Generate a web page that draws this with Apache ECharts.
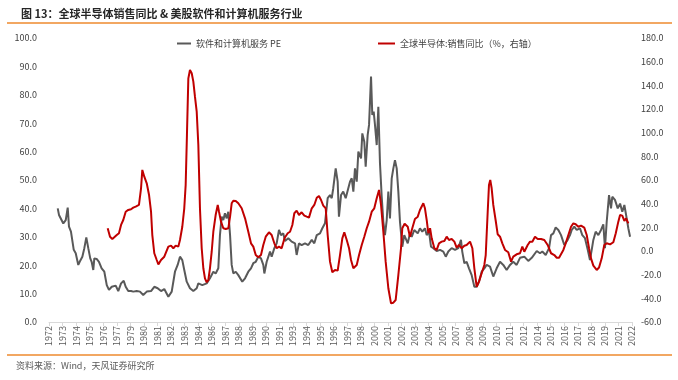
<!DOCTYPE html>
<html>
<head>
<meta charset="utf-8">
<script src="https://cdn.jsdelivr.net/npm/echarts@6/dist/echarts.min.js"></script>
<style>
html,body{margin:0;padding:0;background:#fff;}
#chart{width:678px;height:380px;}
</style>
</head>
<body>
<div id="chart"></div>
<script>
// Time of each reading, in decimal years
var peYears = [
1972.75,1972.86,
1973.03,1973.23,1973.44,1973.61,1973.72,1973.89,
1974.00,1974.13,1974.30,1974.52,1974.64,1974.75,1974.87,
1975.04,1975.21,1975.38,1975.55,1975.67,1975.81,1975.90,
1976.10,1976.30,1976.53,1976.76,1976.97,
1977.16,1977.40,1977.53,1977.74,1977.96,
1978.20,1978.43,1978.60,1978.82,
1979.06,1979.25,1979.55,1979.83,
1980.11,1980.41,1980.78,
1981.06,1981.35,1981.64,1981.92,
1982.27,1982.56,1982.84,
1983.07,1983.27,1983.47,1983.64,1983.85,
1984.13,1984.42,1984.71,1984.85,
1985.19,1985.57,1985.85,
1986.14,1986.34,1986.57,1986.71,1986.86,
1987.00,1987.14,1987.29,1987.43,1987.58,1987.72,1987.86,
1988.07,1988.29,1988.63,1988.87,
1989.15,1989.38,1989.58,1989.79,
1990.01,1990.24,1990.44,1990.53,1990.73,
1991.02,1991.16,1991.39,1991.59,1991.79,1991.96,
1992.16,1992.31,1992.59,1992.88,
1993.17,1993.31,1993.51,1993.74,
1994.03,1994.31,1994.61,1994.83,
1995.04,1995.32,1995.52,1995.75,1995.98,
1996.18,1996.33,1996.46,1996.67,1996.84,1996.95,
1997.13,1997.32,1997.53,1997.70,1997.90,
1998.05,1998.19,1998.33,1998.48,1998.62,1998.85,1998.96,
1999.13,1999.25,1999.42,1999.54,1999.71,1999.82,1999.94,
2000.05,2000.20,2000.34,2000.48,2000.63,2000.77,2000.91,
2001.06,2001.20,2001.34,2001.49,2001.63,2001.77,2001.92,
2002.06,2002.20,2002.40,2002.57,2002.87,
2003.06,2003.21,2003.43,2003.73,2003.92,
2004.12,2004.35,2004.50,2004.70,2004.87,
2005.07,2005.36,2005.65,2005.93,
2006.14,2006.36,2006.65,2006.94,
2007.22,2007.45,2007.56,2007.74,2007.94,
2008.14,2008.37,2008.60,2008.80,
2009.00,2009.23,2009.46,2009.66,2009.95,
2010.23,2010.52,2010.81,
2011.09,2011.38,2011.67,2011.95,
2012.24,2012.53,2012.90,
2013.24,2013.54,2013.97,
2014.25,2014.45,2014.74,
2015.03,2015.20,2015.40,2015.60,2015.83,
2016.06,2016.34,2016.63,2016.83,2016.98,
2017.20,2017.41,2017.69,2017.89,
2018.12,2018.36,2018.55,2018.70,2018.84,
2019.04,2019.27,2019.50,2019.70,2019.84,2019.99,
2020.19,2020.36,2020.47,2020.70,2020.94,
2021.14,2021.33,2021.51,2021.71,2021.85,
2022.00
];
var peValues = [
40.0,37.7,
37.5,34.7,35.9,40.3,33.6,31.8,
31.2,25.4,24.2,20.1,21.2,20.7,23.0,
26.0,29.8,26.0,22.4,21.2,18.3,22.4,
22.2,21.2,18.9,17.7,13.0,
11.3,12.4,11.9,12.8,10.9,
13.6,14.5,12.4,10.9,
10.9,10.7,10.9,10.7,
9.5,10.7,10.9,
12.4,11.9,10.9,11.6,
8.9,10.7,17.7,
20.1,23.0,21.8,18.3,14.2,
11.9,10.9,11.9,13.6,
13.0,13.6,15.4,
17.7,17.1,18.9,30.6,37.1,
35.9,38.3,36.5,38.8,30.6,20.1,17.1,
17.7,16.5,14.2,15.4,
17.7,18.9,20.7,21.2,
23.0,22.4,20.1,17.1,21.2,
24.8,23.0,26.0,27.7,32.4,30.6,
31.2,28.5,29.5,28.3,
27.7,23.6,27.7,27.1,
27.7,27.1,28.9,27.7,
30.6,31.2,33.0,34.8,43.6,
44.7,43.6,47.1,54.1,49.4,37.1,
44.7,45.9,43.6,44.1,49.4,
50.6,45.9,54.1,49.4,60.0,57.6,66.4,
63.5,54.7,65.8,69.4,86.4,72.9,74.1,
69.4,62.3,75.8,55.9,44.1,35.3,30.6,
35.9,45.9,36.5,50.6,54.1,57.0,54.1,
45.9,35.3,26.5,30.6,27.7,
31.2,30.0,32.4,31.2,33.0,
31.8,33.0,30.6,31.8,26.5,
26.0,25.0,25.4,24.8,
23.0,24.8,26.0,25.4,
26.0,28.9,24.8,20.7,21.2,
18.9,16.5,12.4,12.4,
14.2,17.7,18.9,20.1,19.5,
16.0,18.9,21.2,
20.1,18.3,20.1,21.2,
20.1,22.6,23.0,
21.5,22.6,25.0,
24.2,24.8,23.6,
26.0,30.6,31.2,33.3,32.4,
30.6,27.1,28.9,30.6,32.4,
33.6,32.4,33.0,30.6,
29.5,25.4,21.8,25.4,28.9,
31.8,30.6,32.4,34.4,26.0,35.3,
44.7,40.0,44.1,43.0,40.0,
41.7,38.8,41.2,36.5,33.0,
30.0
];
var semiYears = [
1977.05,1977.25,1977.45,1977.62,1977.83,
1978.02,1978.20,1978.39,1978.60,1978.82,
1979.06,1979.25,1979.46,1979.74,1979.92,
1980.03,1980.20,1980.41,1980.61,1980.78,1980.89,
1981.06,1981.27,1981.41,1981.64,1981.92,
1982.27,1982.50,1982.70,1982.90,
1983.13,1983.27,1983.47,1983.64,1983.76,1983.87,1983.99,
1984.13,1984.28,1984.42,1984.56,1984.71,1984.85,1984.99,
1985.14,1985.28,1985.42,1985.57,1985.71,1985.85,
1986.00,1986.14,1986.34,1986.52,1986.63,1986.80,
1987.00,1987.21,1987.43,1987.58,1987.72,1987.86,
1988.07,1988.29,1988.58,1988.87,
1989.15,1989.38,1989.58,1989.79,
1990.01,1990.24,1990.44,1990.65,1990.93,
1991.16,1991.39,1991.59,1991.79,
1992.02,1992.27,1992.54,1992.74,1992.94,
1993.11,1993.31,1993.51,1993.74,1993.97,
1994.18,1994.37,1994.61,1994.83,
1995.04,1995.23,1995.41,1995.60,1995.81,1995.98,
1996.18,1996.38,1996.61,1996.84,
1997.04,1997.24,1997.41,1997.62,1997.82,1997.99,
1998.19,1998.33,1998.48,1998.68,1998.91,
1999.13,1999.34,1999.54,1999.77,1999.99,
2000.20,2000.40,2000.57,2000.77,2000.97,
2001.20,2001.43,2001.63,2001.83,
2002.06,2002.29,2002.40,2002.60,2002.87,
2003.06,2003.26,2003.49,2003.73,2003.92,
2004.21,2004.35,2004.50,2004.64,2004.79,2004.93,
2005.16,2005.36,2005.56,2005.79,
2006.02,2006.22,2006.42,2006.65,2006.88,
2007.08,2007.28,2007.51,2007.74,2007.94,
2008.23,2008.43,2008.60,2008.80,
2009.00,2009.23,2009.46,2009.58,2009.75,2009.86,2009.97,
2010.09,2010.23,2010.43,2010.61,2010.81,
2011.01,2011.24,2011.52,2011.76,2011.95,
2012.24,2012.53,2012.73,2012.90,
2013.19,2013.39,2013.59,2013.82,
2014.05,2014.34,2014.62,2014.91,
2015.20,2015.48,2015.69,2015.89,
2016.06,2016.26,2016.46,2016.69,2016.92,
2017.12,2017.32,2017.55,2017.78,
2018.06,2018.27,2018.47,2018.64,2018.84,
2019.13,2019.33,2019.56,2019.78,2019.99,
2020.28,2020.56,2020.77,2020.99,
2021.14,2021.33,2021.51,2021.66,2021.85
];
var semiValues = [
19.2,12.1,10.2,9.0,13.5,
15.0,22.0,26.2,33.2,34.7,
35.3,36.6,37.5,38.9,53.0,
68.5,62.8,57.2,47.3,33.2,13.5,
-1.9,-7.6,-11.3,-7.6,-4.8,
3.7,4.5,2.3,4.5,
3.7,9.3,20.5,36.1,55.8,98.0,145.9,
153.0,150.2,143.1,130.4,117.7,89.6,36.1,
2.3,-14.6,-23.1,-26.4,-24.5,-14.6,
-0.6,16.3,30.4,38.9,33.2,24.8,
19.2,18.6,19.2,29.0,40.3,42.5,
42.3,40.3,36.1,27.6,
16.3,6.5,3.7,-3.4,
-5.3,-3.4,5.1,12.1,15.8,
13.5,6.5,2.3,3.7,
2.3,11.0,15.0,16.3,22.0,
31.9,34.1,30.4,32.7,29.9,
29.0,28.2,36.1,38.9,
45.0,46.5,43.1,38.3,36.1,13.5,
-9.0,-18.0,-16.0,-16.6,
-3.4,10.7,15.8,9.3,2.3,-7.6,
-14.6,-16.0,-11.8,-3.4,5.1,
12.1,19.2,24.8,33.2,36.1,
44.5,51.6,38.9,16.3,-9.0,
-31.5,-44.2,-43.7,-41.4,
-20.3,2.3,19.2,23.0,20.5,
12.1,19.2,27.1,29.0,34.7,
40.3,36.1,26.2,15.0,19.2,10.7,
2.3,0.9,6.5,7.9,
8.5,12.1,9.3,10.2,7.9,
2.8,5.1,2.3,4.5,5.1,
7.9,2.3,-14.6,-30.2,
-25.9,-18.8,-11.8,-3.4,33.2,55.8,60.0,
53.0,38.9,26.2,14.1,12.1,
6.5,0.9,-1.1,-9.0,-4.8,
-2.8,-1.9,3.7,-0.6,
5.1,7.9,7.9,12.1,
10.2,10.2,9.3,5.1,
-1.9,-3.4,-5.7,-5.7,
-7.0,0.9,6.5,13.5,20.5,
23.4,22.6,20.5,21.4,
19.7,13.5,2.3,-6.2,-12.4,
-16.0,-14.0,-6.2,5.1,6.5,
5.6,7.4,15.0,24.8,
30.4,29.9,25.4,27.6,23.4
];
var startYear = 1972;
var axisMonths = 602;     // span of the time axis in months from Jan 1972
var labelStepMonths = 14; // one tick label every 14 months
var peName = '软件和计算机服务 PE';
var semiName = '全球半导体:销售同比（%，右轴）';
var titleText = '图 13：全球半导体销售同比 & 美股软件和计算机服务行业';
var sourceText = '资料来源：Wind，天风证券研究所';

function toPairs(years, values) {
  var out = [];
  var n = Math.min(years.length, values.length);
  for (var i = 0; i < n; i++) out.push([(years[i] - startYear) * 12, values[i]]);
  return out;
}

var FONT = '"Noto Sans CJK SC", "Noto Sans", sans-serif';
var chart = echarts.init(document.getElementById('chart'));
chart.setOption({
  animation: false,
  backgroundColor: '#fff',
  textStyle: { fontFamily: FONT },
  title: {
    text: titleText, left: 16, top: 3,
    textStyle: { fontSize: 11, fontWeight: 'bold', color: '#262626', fontFamily: FONT }
  },
  graphic: [
    { type: 'line', shape: { x1: 7, y1: 23, x2: 672, y2: 23 }, style: { stroke: '#EE8A2E', lineWidth: 1.5 } },
    { type: 'line', shape: { x1: 7, y1: 355, x2: 672, y2: 355 }, style: { stroke: '#EE8A2E', lineWidth: 1.5 } },
    { type: 'text', left: 16, top: 361, style: { text: sourceText, fontSize: 9, fill: '#595959', fontFamily: FONT } }
  ],
  legend: [
    { data: [peName], left: 172, top: 34, icon: 'rect', itemWidth: 14, itemHeight: 2,
      textStyle: { fontSize: 9, color: '#404040', fontFamily: FONT } },
    { data: [semiName], left: 373, top: 34, icon: 'rect', itemWidth: 17, itemHeight: 2,
      textStyle: { fontSize: 9, color: '#404040', fontFamily: FONT } }
  ],
  grid: { left: 49, right: 46, top: 38, bottom: 58, containLabel: false },
  xAxis: {
    type: 'value', min: 0, max: axisMonths, interval: labelStepMonths,
    axisLine: { show: true, onZero: false, lineStyle: { color: '#D9D9D9', width: 1 } },
    axisTick: { show: true, length: 4, lineStyle: { color: '#D9D9D9' } },
    splitLine: { show: false },
    axisLabel: {
      rotate: 90, fontSize: 9, color: '#595959', margin: 4, fontFamily: FONT,
      showMaxLabel: true, showMinLabel: true,
      formatter: function (v) { return String(startYear + Math.floor(v / 12 + 1e-9)); }
    }
  },
  yAxis: [
    {
      type: 'value', min: 0, max: 100, interval: 10,
      axisLine: { show: false }, axisTick: { show: false }, splitLine: { show: false },
      axisLabel: { fontSize: 9, color: '#404040', margin: 12, fontFamily: FONT,
        formatter: function (v) { return v.toFixed(1); } }
    },
    {
      type: 'value', min: -60, max: 180, interval: 20, position: 'right',
      axisLine: { show: false }, axisTick: { show: false }, splitLine: { show: false },
      axisLabel: { fontSize: 9, color: '#404040', margin: 9, fontFamily: FONT,
        formatter: function (v) { return v.toFixed(1); } }
    }
  ],
  series: [
    {
      name: peName, type: 'line', yAxisIndex: 0, showSymbol: false, symbol: 'none',
      data: toPairs(peYears, peValues),
      lineStyle: { color: '#595959', width: 2 }, itemStyle: { color: '#595959' }
    },
    {
      name: semiName, type: 'line', yAxisIndex: 1, showSymbol: false, symbol: 'none',
      data: toPairs(semiYears, semiValues),
      lineStyle: { color: '#C00000', width: 2 }, itemStyle: { color: '#C00000' }
    }
  ]
});
</script>
</body>
</html>
